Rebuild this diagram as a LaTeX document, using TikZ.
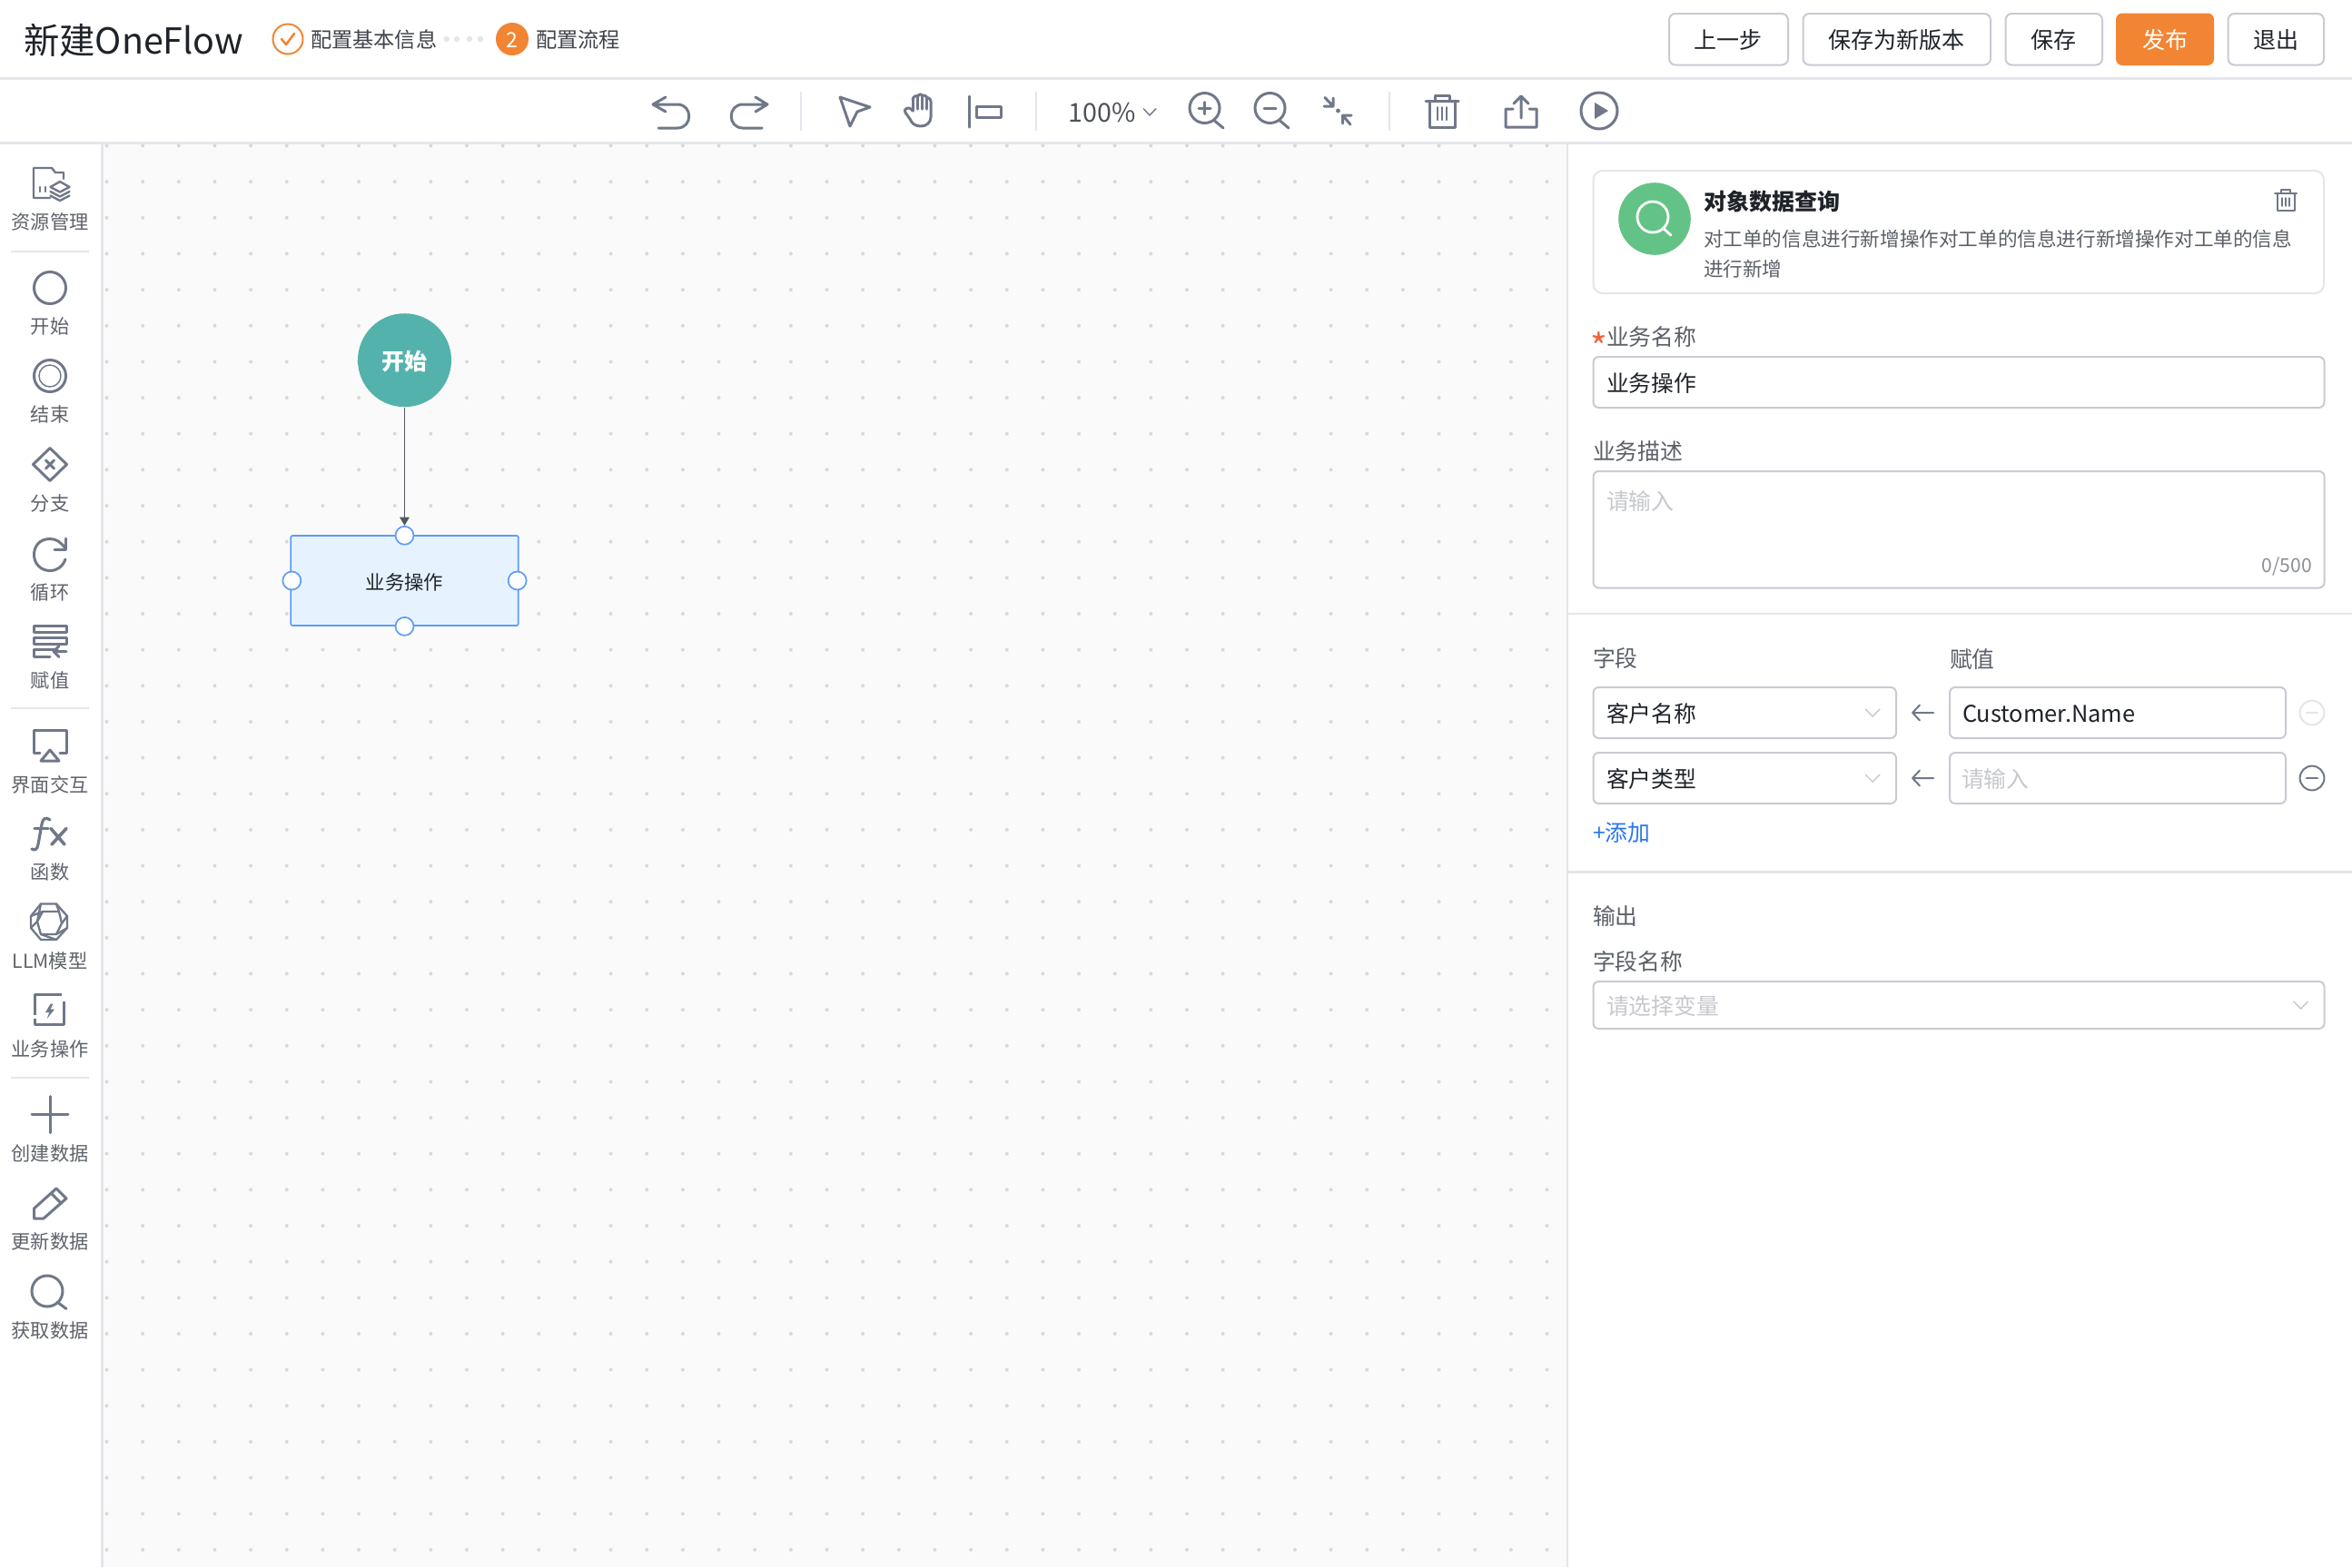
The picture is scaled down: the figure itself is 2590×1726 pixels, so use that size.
\documentclass[tikz,border=0pt]{standalone}
\usepackage{fontspec}
\setmainfont{Noto Sans CJK SC}
\usetikzlibrary{arrows.meta}
\definecolor{iconc}{HTML}{707889}
\definecolor{linec}{HTML}{E4E6EB}
\definecolor{boxc}{HTML}{C9CBD3}
\definecolor{orangec}{HTML}{F28533}
\definecolor{inkc}{HTML}{1F2329}
\definecolor{labelc}{HTML}{5B5F68}
\definecolor{holdc}{HTML}{C6C8CE}
\definecolor{sidec}{HTML}{5E626B}
\definecolor{startc}{HTML}{54B2AC}
\definecolor{bluec}{HTML}{5F9CF5}
\definecolor{bluefill}{HTML}{E6F3FF}
\definecolor{canvasc}{HTML}{FAFAFA}
\definecolor{dotc}{HTML}{D9D9D9}
\definecolor{greenc}{HTML}{63C386}
\definecolor{linkc}{HTML}{2878F0}
\definecolor{starc}{HTML}{F0643C}
\definecolor{connc}{HTML}{55585F}
\tikzset{
  x=0.5pt,y=-0.5pt,
  txt/.style={inner sep=0pt,outer sep=0pt,execute at begin node={\rule[-.12em]{0pt}{1.08em}}},
  lab/.style={txt,anchor=west,text=labelc,font=\fontsize{12.4}{15}\selectfont},
  val/.style={txt,anchor=west,text=inkc,font=\fontsize{12.4}{15}\selectfont},
  hold/.style={txt,anchor=west,text=holdc,font=\fontsize{12.4}{15}\selectfont},
  side/.style={txt,anchor=center,text=sidec,font=\fontsize{10.6}{13}\selectfont},
  btntext/.style={txt,anchor=center,text=inkc,font=\fontsize{12.5}{15}\selectfont},
  btn/.style={draw=boxc,line width=1pt,fill=white,rounded corners=3.5pt},
  field/.style={draw=boxc,line width=1pt,fill=white,rounded corners=3pt},
  ico/.style={draw=iconc,line width=1.5pt,line cap=round,line join=round},
  icothin/.style={draw=iconc,line width=1pt,line cap=round,line join=round},
  sep/.style={draw=linec,line width=1pt},
  chev/.style={draw=#1,line width=.7pt,line join=miter},
  conn/.style={draw=connc,line width=.85pt,-{Triangle[length=4.6pt,width=5.2pt]}},
  portn/.style={circle,draw=bluec,fill=white,line width=.85pt,minimum size=10pt,inner sep=0pt},
}
\begin{document}
\begin{tikzpicture}
\useasboundingbox (0,0) rectangle (2590,1726);
\fill[white] (0,0) rectangle (2590,1726);
% canvas
\fill[canvasc] (112,158) rectangle (1726,1726);
\begin{scope}
\clip (113,158) rectangle (1725,1726);
\foreach \i in {0,...,40}{\foreach \j in {0,...,39}{
  \fill[dotc] (117.5+39.65*\i,160.5+39.65*\j) circle[radius=1pt];}}
\end{scope}
% frame lines
\draw[linec,line width=1.5pt] (0,86) -- (2590,86);
\draw[linec,line width=1.5pt] (0,157.5) -- (2590,157.5);
\draw[linec,line width=1.5pt] (112,158) -- (112,1726);
\draw[linec,line width=1.2pt] (1726,158) -- (1726,1726);
\draw[linec,line width=1.2pt] (1727,676) -- (2590,676);
\draw[linec,line width=1.2pt] (1727,960.5) -- (2590,960.5);
% header
\node[txt,anchor=west,text=inkc,font=\fontsize{19.7}{23}\selectfont] (title) at (26,43) {新建OneFlow};
\draw[orangec,line width=1pt] (317,43) circle[radius=16.5*0.5pt];
\draw[orangec,line width=1.3pt,line cap=round,line join=round] (310,43) -- (315,49) -- (324,37);
\node[txt,anchor=west,text=labelc!70!black,font=\fontsize{11.6}{14}\selectfont] (s1) at (342,43) {配置基本信息};
\foreach \x in {491.7,503,517,529}{\fill[linec] (\x,43) circle[radius=1.6pt];}
\fill[orangec] (564,43) circle[radius=9pt];
\node[txt,anchor=center,text=white,font=\fontsize{11.5}{14}\selectfont] (n2) at (564,43) {2};
\node[txt,anchor=west,text=labelc!70!black,font=\fontsize{11.6}{14}\selectfont] (s2) at (590,43) {配置流程};
% buttons
\draw[btn] (1838,15) rectangle (1969,71.5);
\node[btntext] (b1) at (1903,43) {上一步};
\draw[btn] (1985.5,15) rectangle (2192,71.5);
\node[btntext] (b2) at (2088.5,43) {保存为新版本};
\draw[btn] (2208.5,15) rectangle (2315,71.5);
\node[btntext] (b3) at (2261.5,43) {保存};
\fill[orangec,rounded corners=3.5pt] (2330,14.5) rectangle (2438,72);
\node[btntext,text=white] (b4) at (2384,43) {发布};
\draw[btn] (2453.5,15) rectangle (2559,71.5);
\node[btntext] (b5) at (2506,43) {退出};
% toolbar
\draw[ico] (733,107) -- (719,115) -- (733,123) (719,115) -- (746,115) .. controls (763,115) and (763,141) .. (746,141) -- (725,141);
\draw[ico] (832,107) -- (845,115) -- (832,123) (845,115) -- (818,115) .. controls (801,115) and (801,141) .. (818,141) -- (839,141);
\draw[sep] (882,101) -- (882,144);
\draw[ico] (925,107) -- (958,118) -- (944,123) -- (936,139) -- cycle;
\draw[ico] (1005,122) -- (1005,110) (1010.5,120) -- (1010.5,107) (1015.5,120) -- (1015.5,106) (1020.5,120) -- (1020.5,108);
\draw[ico] (1005,110) .. controls (1005,106) and (1010.5,104) .. (1010.5,107) .. controls (1011,103) and (1015.5,103) .. (1015.5,106) .. controls (1016,104) and (1020.5,105) .. (1020.5,108) .. controls (1021,107) and (1025,108) .. (1025,112) -- (1025,129) .. controls (1025,135) and (1020,139) .. (1014,139) .. controls (1008,139) and (1004,136) .. (1002,131) -- (997,124) .. controls (994,120) and (1001,116) .. (1005,122);
\draw[ico] (1067,106) -- (1067,140);
\draw[ico,line cap=butt] (1075,117) rectangle (1102,129);
\draw[sep] (1141,101) -- (1141,144);
\node[txt,anchor=center,text=labelc!85!black,font=\fontsize{14.3}{17}\selectfont] (zoomv) at (1213.5,122) {100\%};
\draw[chev=iconc] (1259,119.5) -- (1266,127) -- (1273,119.5);
\draw[ico] (1326.5,119) circle[radius=8.25pt] (1337.5,133) -- (1347,141);
\draw[ico] (1320,119) -- (1333,119) (1326.5,112.5) -- (1326.5,125.5);
\draw[ico] (1398.5,119) circle[radius=8.25pt] (1409.5,133) -- (1419,141);
\draw[ico] (1392,119) -- (1405,119);
\draw[ico] (1459,107.5) -- (1468,117) (1458,117) -- (1468,117) -- (1468,108);
\draw[ico] (1487,137) -- (1478.5,127) (1488,127) -- (1478.5,127) -- (1478.5,136);
\fill[iconc] (1473.5,122) circle[radius=1.2pt];
\draw[sep] (1530,101) -- (1530,144);
\draw[ico] (1570,111) -- (1606,111) (1580,111) -- (1580,105) -- (1596,105) -- (1596,111) (1574,111) -- (1574,140) -- (1602,140) -- (1602,111);
\draw[icothin] (1583,118) -- (1583,132) (1588,118) -- (1588,132) (1593,118) -- (1593,132);
\draw[ico] (1675,106) -- (1675,130) (1667,114) -- (1675,106) -- (1683,114) (1666,120) -- (1658,120) -- (1658,140) -- (1692,140) -- (1692,120) -- (1684,120);
\draw[ico] (1761,122) circle[radius=10pt];
\fill[iconc] (1756,113) -- (1771,122) -- (1756,131) -- cycle;
% sidebar
\draw[ico,line width=1.2pt] (70,197) -- (70,190) -- (61,190) -- (57,185) -- (37,185) -- (37,218) -- (55,218);
\draw[ico,line width=1.2pt] (44,206) -- (44,211) (50,206) -- (50,211);
\draw[ico,line width=1.2pt] (55.5,206) -- (66,200) -- (76.5,206) -- (66,211.5) -- cycle (55.5,211) -- (66,216.5) -- (76.5,211) (55.5,215.5) -- (66,221) -- (76.5,215.5);
\node[side] (sb1) at (55,243.5) {资源管理};
\draw[linec,line width=1pt] (12,276.5) -- (98,276.5);
\draw[ico] (55,317) circle[radius=8.75pt];
\node[side] (sb2) at (55,359) {开始};
\draw[ico] (55,414) circle[radius=8.75pt];
\draw[icothin,line width=.7pt] (55,414) circle[radius=6pt];
\node[side] (sb3) at (55,456) {结束};
\draw[ico] (36.5,511.5) -- (55,493.5) -- (73.5,511.5) -- (55,529.5) -- cycle;
\draw[ico] (50.5,507) -- (59.5,516) (59.5,507) -- (50.5,516);
\node[side] (sb4) at (55,553.5) {分支};
\draw[ico] (72,604) .. controls (67,597) and (62,593.5) .. (55,593.5) .. controls (44,593.5) and (37.5,601) .. (37.5,611) .. controls (37.5,621) and (45,628.5) .. (55,628.5) .. controls (63,628.5) and (69,624) .. (72,616);
\draw[ico] (72.5,593) -- (72.5,605) -- (60,605);
\node[side] (sb5) at (55,651.5) {循环};
\draw[ico] (37,689) rectangle (73,696) (37,702) rectangle (73,709);
\draw[ico] (63,715) -- (37,715) -- (37,723) -- (55,723);
\draw[ico] (73,717.5) -- (59,717.5) (65,711.5) -- (59,717.5) -- (65,723.5);
\node[side] (sb6) at (55,748.5) {赋值};
\draw[linec,line width=1pt] (12,780) -- (98,780);
\draw[ico] (44,829) -- (37,829) -- (37,804) -- (73,804) -- (73,829) -- (66,829);
\draw[ico] (45,838) -- (65,838) -- (55,826) -- cycle;
\node[side] (sb7) at (55,863.5) {界面交互};
\draw[ico,line width=1.6pt] (55,903) .. controls (50,899) and (47,902) .. (46,908) -- (42,930) .. controls (41,936) and (38,937) .. (35,935);
\draw[ico,line width=1.6pt] (38,912.5) -- (53,912.5);
\draw[ico,line width=1.8pt] (56,912.5) -- (71,930) (73,912.5) -- (57,930);
\node[side] (sb8) at (55,959.5) {函数};
\begin{scope}[yshift=-1pt]
\draw[ico,line width=1.15pt] (45,993.5) -- (62,993.5) -- (74,1007) -- (74,1020) -- (62,1033) -- (45,1033) -- (34,1020) -- (34,1007) -- cycle;
\draw[ico,line width=1.15pt] (47,1002) -- (65,1002) -- (68,1015) -- (62,1027) -- (45,1027) -- (41,1013) -- cycle;
\draw[ico,line width=1.15pt] (45,993.5) -- (41,1013) (62,993.5) -- (65,1002) (74,1007) -- (68,1015) (74,1020) -- (62,1027) (62,1033) -- (45,1027) (34,1020) -- (41,1013) (34,1007) -- (47,1002);
\end{scope}
\node[side] (sb9) at (55,1057.5) {LLM模型};
\draw[ico,line cap=butt] (68,1095.5) -- (38,1095.5) -- (38,1118);
\draw[ico,line cap=butt] (70.5,1103) -- (70.5,1128.5) -- (38,1128.5) -- (38,1122);
\fill[iconc] (55.7,1105.5) -- (50,1115) -- (54.3,1115) -- (51.7,1122) -- (60,1111.7) -- (55.7,1111.7) -- (58.3,1105.5) -- cycle;
\node[side] (sb10) at (55,1155) {业务操作};
\draw[linec,line width=1pt] (12,1187) -- (98,1187);
\draw[ico] (35,1227.5) -- (75,1227.5) (55,1207.5) -- (55,1247.5);
\node[side] (sb11) at (55,1269.5) {创建数据};
\draw[ico] (37.5,1342) -- (37.5,1331) -- (62,1309) -- (73,1320) -- (48,1342) -- cycle (56.5,1314.5) -- (67.5,1325.5);
\node[side] (sb12) at (55,1367) {更新数据};
\draw[ico] (52,1422) circle[radius=8.5pt] (63,1434) -- (73,1441.5);
\node[side] (sb13) at (55,1464.5) {获取数据};
% flow
\node[circle,fill=startc,minimum size=51.5pt,inner sep=0pt] (start) at (445.5,396.7) {};
\node[txt,anchor=center,text=white,font=\fontsize{12.5}{15}\selectfont] (startt) at (445.5,397) {\textbf{开始}};
\node[draw=bluec,fill=bluefill,line width=.85pt,rounded corners=1pt,minimum width=125.3pt,minimum height=49.5pt,inner sep=0pt] (op) at (445.5,639.5) {};
\node[txt,anchor=center,text=inkc,font=\fontsize{10.7}{13}\selectfont] (opt) at (445.5,640) {业务操作};
\node[portn] (pt) at ([yshift=-.3pt]op.north) {};
\node[portn] (pb) at (op.south) {};
\node[portn] (pl) at ([xshift=1pt]op.west) {};
\node[portn] (pr) at ([xshift=-1pt]op.east) {};
\draw[conn] (start) -- (pt);
% card
\draw[draw=linec,line width=1pt,fill=white,rounded corners=5pt] (1754.5,188) rectangle (2559,323);
\fill[greenc] (1822,241) circle[radius=19.9pt];
\draw[white,line width=1.4pt,line cap=round] (1820,239) circle[radius=8.5pt] (1831,251) -- (1840,259);
\node[txt,anchor=west,text=inkc,font=\fontsize{12.5}{15}\bfseries\selectfont] (ct) at (1876,221) {对象数据查询};
\node[txt,anchor=west,text=labelc,font=\fontsize{10.8}{13}\selectfont] (cd1) at (1876,262.5) {对工单的信息进行新增操作对工单的信息进行新增操作对工单的信息};
\node[txt,anchor=west,text=labelc,font=\fontsize{10.8}{13}\selectfont] (cd2) at (1876,295) {进行新增};
\draw[ico,line width=1pt] (2505,213) -- (2529,213) (2512,213) -- (2512,208.5) -- (2522,208.5) -- (2522,213) (2507.5,213) -- (2507.5,232) -- (2526.5,232) -- (2526.5,213);
\draw[ico,line width=.7pt] (2513,218) -- (2513,227) (2517,218) -- (2517,227) (2521,218) -- (2521,227);
% form
\node[txt,anchor=center,text=starc,font=\fontsize{20}{22}\selectfont] (star) at (1761,381) {*};
\node[lab] (f1) at (1769,370.5) {业务名称};
\draw[field] (1754.5,393) rectangle (2559.5,449);
\node[val] (f1v) at (1769,421) {业务操作};
\node[lab] (f2) at (1754,496.5) {业务描述};
\draw[field] (1754.5,519) rectangle (2559.5,647.5);
\node[hold] (f2v) at (1769,551.5) {请输入};
\node[txt,anchor=east,text=labelc!70,font=\fontsize{10.6}{13}\selectfont] (f2c) at (2546,622.5) {0/500};
\node[lab] (h1) at (1754,724) {字段};
\node[lab] (h2) at (2147,725.5) {赋值};
\draw[field] (1754.5,757) rectangle (2088,813);
\node[val] (r1a) at (1769,785) {客户名称};
\draw[chev=holdc] (2054,781) -- (2062,789) -- (2070,781);
\draw[ico,line width=1pt] (2129,785) -- (2106,785) (2114,776.5) -- (2106,785) -- (2114,793.5);
\draw[field] (2147,757) rectangle (2517,813);
\node[val,font=\fontsize{12.7}{15}\selectfont] (r1b) at (2161,785) {Customer.Name};
\draw[draw=linec,line width=1pt] (2546,785) circle[radius=6.7pt];
\draw[draw=linec,line width=1.2pt,line cap=round] (2540,785) -- (2552,785);
\draw[field] (1754.5,829) rectangle (2088,885);
\node[val] (r2a) at (1769,857) {客户类型};
\draw[chev=holdc] (2054,853) -- (2062,861) -- (2070,853);
\draw[ico,line width=1pt] (2129,857) -- (2106,857) (2114,848.5) -- (2106,857) -- (2114,865.5);
\draw[field] (2147,829) rectangle (2517,885);
\node[hold] (r2b) at (2160,857) {请输入};
\draw[ico,line width=1pt] (2546,857) circle[radius=6.7pt];
\draw[ico,line width=1.2pt] (2540,857) -- (2552,857);
\node[txt,anchor=west,text=linkc,font=\fontsize{12.4}{15}\selectfont] (add) at (1754,916.5) {+添加};
\node[lab] (o1) at (1754,1008) {输出};
\node[lab] (o2) at (1754,1058) {字段名称};
\draw[field] (1754.5,1081) rectangle (2559.5,1133);
\node[hold] (o2v) at (1769,1107) {请选择变量};
\draw[chev=holdc] (2525.5,1103) -- (2533.5,1111) -- (2541.5,1103);
\end{tikzpicture}
\end{document}
